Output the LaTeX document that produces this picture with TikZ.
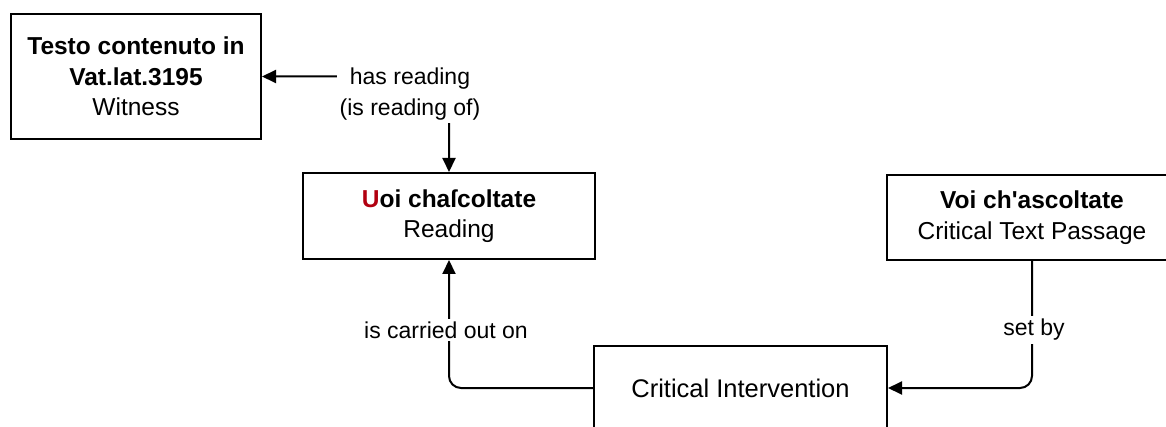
\documentclass[tikz,border=0pt]{standalone}
\definecolor{lemmared}{RGB}{178, 0, 16}
\usepackage{fontspec}
\newfontfamily\diagfont{Liberation Sans}
\usepackage{tikz}
\usetikzlibrary{arrows.meta, positioning, calc}

\begin{document}
\begin{tikzpicture}[x=1pt, y=-1pt, line width=2pt,
    entity/.style={draw, fill=white, align=center, inner sep=0pt,
      font=\diagfont\fontsize{24.5}{30.5}\selectfont},
    rel/.style={fill=white, align=center, inner sep=3pt,
      font=\diagfont\fontsize{23}{31}\selectfont},
    link/.style={-{Triangle[length=14pt, width=13pt]}, rounded corners=12pt}]
  \clip (0,0) rectangle (1166,427);

  % entities
  \node[entity, minimum width=250pt, minimum height=125pt] (witness) at (136,76.5)
    {\textbf{Testo contenuto in}\\\textbf{Vat.lat.3195}\\Witness};
  \node[entity, minimum width=292pt, minimum height=86pt] (reading) at (449,216)
    {\textbf{\textcolor{lemmared}{U}oi chaſcoltate}\\Reading};
  \node[entity, minimum width=290pt, minimum height=85pt] (passage) at (1032,217.5)
    {\textbf{Voi ch'ascoltate}\\Critical Text Passage};
  \node[entity, minimum width=293pt, minimum height=84pt,
    font=\diagfont\fontsize{25.5}{30.5}\selectfont] (intervention) at (740.5,388)
    {Critical Intervention};

  % relations
  \draw[link, {Triangle[length=14pt, width=13pt]}-{Triangle[length=14pt, width=13pt]}]
    (reading.north) |- (witness.east);
  \node[rel] (hasreading) at (410,94) {has reading\\(is reading of)};

  \draw[link] (intervention.west) -| (reading.south);
  \node[rel] (carriedout) at (446,330) {is carried out on};

  \draw[link] (passage.south) |- (intervention.east);
  \node[rel] (setby) at (1034,330) {set by};
\end{tikzpicture}
\end{document}
